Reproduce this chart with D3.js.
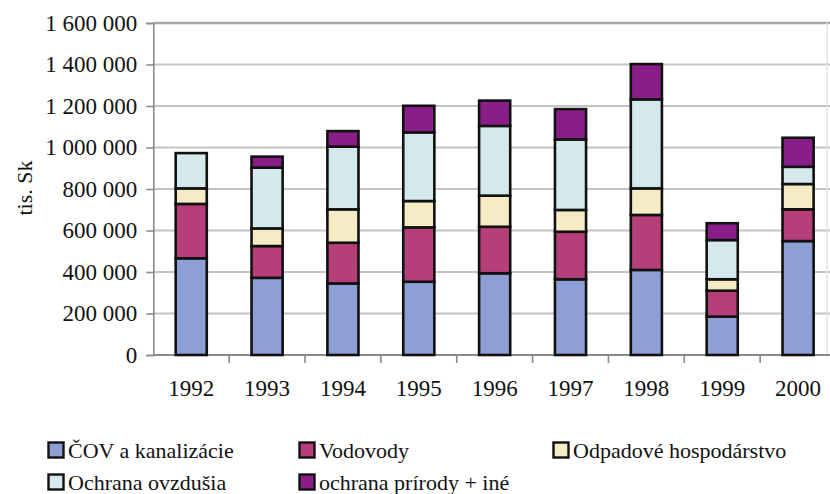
<!DOCTYPE html>
<html>
<head>
<meta charset="utf-8">
<script src="https://cdn.jsdelivr.net/npm/d3@7"></script>
<style>
  body { margin: 0; background: #fff; }
  svg { display: block; font-family: "Liberation Serif", "Times New Roman", serif; }
</style>
</head>
<body>
<div id="chart"></div>
<script>
var years = ["1992", "1993", "1994", "1995", "1996", "1997", "1998", "1999", "2000"];
var seriesNames = ["ČOV a kanalizácie", "Vodovody", "Odpadové hospodárstvo", "Ochrana ovzdušia", "ochrana prírody + iné"];
var seriesColors = ["#8e9fd5", "#b53f79", "#f5ebc4", "#d5e9ed", "#891e88"];

// tis. Sk
var cov       = [466000, 372000, 345000, 353000, 394000, 365000, 410000, 185000, 549000];
var vodovody  = [262000, 153000, 196000, 262000, 224000, 229000, 265000, 125000, 153000];
var odpad     = [ 75000,  85000, 161000, 127000, 150000, 105000, 128000,  55000, 122000];
var ovzdusie  = [170000, 293000, 302000, 331000, 336000, 340000, 429000, 189000,  83000];
var priroda   = [     0,  53000,  75000, 128000, 122000, 146000, 170000,  81000, 140000];
var yTicks = [0, 200000, 400000, 600000, 800000, 1000000, 1200000, 1400000, 1600000];

var W = 830, H = 494;
var plotL = 153.3, plotR = 836, plotT = 23, plotB = 355;

var rows = years.map(function(yr, i) {
    return { year: yr, s0: cov[i], s1: vodovody[i], s2: odpad[i], s3: ovzdusie[i], s4: priroda[i] };
});
var layers = d3.stack().keys(["s0", "s1", "s2", "s3", "s4"])(rows);

var x = d3.scaleBand().domain(years).range([plotL, plotR]).paddingInner(0.59).paddingOuter(0.295);
var xb = d3.scaleBand().domain(years).range([plotL, plotR]);
var y = d3.scaleLinear().domain([0, 1600000]).range([plotB, plotT]);

var fmt = d3.formatLocale({ decimal: ",", thousands: " ", grouping: [3], currency: ["", ""] }).format(",d");

var svg = d3.select("#chart").append("svg")
    .attr("width", W)
    .attr("height", H);

// gridlines
svg.append("g").selectAll("line")
    .data(yTicks.slice(1))
    .enter().append("line")
    .attr("x1", plotL).attr("x2", W)
    .attr("y1", function(d) { return y(d); })
    .attr("y2", function(d) { return y(d); })
    .attr("stroke", function(d) { return d === 1600000 ? "#a8a8a8" : "#c4c4c4"; })
    .attr("stroke-width", function(d) { return d === 1600000 ? 2.5 : 1.8; });

// faint right border
svg.append("line")
    .attr("x1", 827).attr("x2", 827).attr("y1", plotT).attr("y2", plotB)
    .attr("stroke", "#e4e4e4").attr("stroke-width", 1.5);

// y axis
var yAxis = svg.append("g")
    .attr("transform", "translate(" + plotL + ",0)")
    .call(d3.axisLeft(y).tickValues(yTicks).tickFormat(fmt).tickSize(7).tickPadding(9));
yAxis.select(".domain").attr("stroke", "#8a8a8a").attr("stroke-width", 1.6);
yAxis.selectAll(".tick line").attr("stroke", "#8a8a8a").attr("stroke-width", 1.6);
yAxis.selectAll("text").attr("font-size", 23).attr("fill", "#111")
    .attr("font-family", "Liberation Serif, serif");

// x axis
var xAxis = svg.append("g")
    .attr("transform", "translate(0," + plotB + ")")
    .call(d3.axisBottom(x).tickSize(0).tickPadding(25));
xAxis.select(".domain").remove();
xAxis.selectAll("text").attr("font-size", 23).attr("fill", "#111")
    .attr("font-family", "Liberation Serif, serif");
svg.append("line")
    .attr("x1", plotL).attr("x2", W).attr("y1", plotB).attr("y2", plotB)
    .attr("stroke", "#8a8a8a").attr("stroke-width", 1.8);
svg.append("g").selectAll("line")
    .data(years.slice(1))
    .enter().append("line")
    .attr("x1", function(d) { return xb(d); })
    .attr("x2", function(d) { return xb(d); })
    .attr("y1", plotB).attr("y2", plotB + 8)
    .attr("stroke", "#8a8a8a").attr("stroke-width", 1.6);

// bars
svg.append("g").selectAll("g")
    .data(layers)
    .enter().append("g")
    .attr("fill", function(d, i) { return seriesColors[i]; })
    .selectAll("rect")
    .data(function(d) { return d.filter(function(p) { return p[1] > p[0]; }); })
    .enter().append("rect")
    .attr("x", function(d) { return x(d.data.year); })
    .attr("width", x.bandwidth())
    .attr("y", function(d) { return y(d[1]); })
    .attr("height", function(d) { return y(d[0]) - y(d[1]); })
    .attr("stroke", "#111")
    .attr("stroke-width", 2.6);

// y axis title
svg.append("text")
    .attr("transform", "translate(32,188) rotate(-90)")
    .attr("text-anchor", "middle")
    .attr("font-size", 22)
    .attr("fill", "#111")
    .text("tis. Sk");

// legend
var legendPos = [[47, 450], [298, 450], [552, 450], [47, 482], [298, 482]];
var legend = svg.append("g").selectAll("g")
    .data(seriesNames)
    .enter().append("g")
    .attr("transform", function(d, i) { return "translate(" + legendPos[i][0] + "," + legendPos[i][1] + ")"; });
legend.append("rect")
    .attr("x", 1.5).attr("y", -7.5)
    .attr("width", 15).attr("height", 15)
    .attr("fill", function(d, i) { return seriesColors[i]; })
    .attr("stroke", "#111").attr("stroke-width", 2.4);
legend.append("text")
    .attr("x", 21)
    .attr("dy", "0.35em")
    .attr("font-size", 22)
    .attr("fill", "#111")
    .text(function(d) { return d; });
</script>
</body>
</html>
